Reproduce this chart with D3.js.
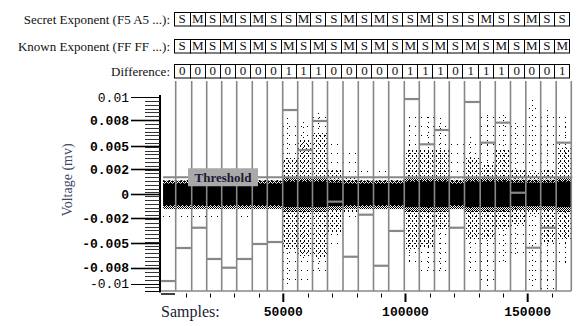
<!DOCTYPE html>
<html><head><meta charset="utf-8">
<script src="https://cdn.jsdelivr.net/npm/d3@7"></script>
<style>body{margin:0;background:#fff}svg{display:block}</style>
</head><body>
<svg id="c" width="587" height="326"></svg>
<script>
// ---------- data ----------
const secretOps = ["S","M","S","M","S","M","S","S","M","S","S","M","S","M","S","S","M","S","S","S","M","S","S","M","S","S"];
const knownOps  = ["S","M","S","M","S","M","S","M","S","M","S","M","S","M","S","M","S","M","S","M","S","M","S","M","S","M"];
const difference = [0,0,0,0,0,0,0,1,1,1,0,0,0,0,0,1,1,1,0,1,1,1,0,0,0,1];
// segment boundaries (samples): 27 segments
const segStarts = [0,5974,12521,18658,24796,30933,37316,43454,49755,55893,61949,68087,74429,80690,86909,93129,99512,105650,111869,117925,124144,130568,136747,142966,149227,155323,161666,167844];
// level (volts) drawn in each segment
const segLevels = [-0.00884,-0.00547,-0.0034,-0.00659,-0.00748,-0.00659,-0.00506,-0.00486,0.00861,0.00453,0.00749,-0.00074,-0.00636,-0.00207,-0.00728,-0.00373,0.00973,0.00511,0.00657,-0.0034,0.00943,0.00528,0.00732,0.00017,-0.00544,-0.0034,0.00528];
const thresholdValue = 0.00175;
// trace envelopes per segment (volts)
const coreHi  = [0.0011,0.0011,0.0011,0.0011,0.0011,0.0011,0.0011,0.0011,0.0013,0.0013,0.0013,0.0012,0.0011,0.0011,0.0011,0.0011,0.0013,0.0013,0.0013,0.0011,0.0013,0.0013,0.0013,0.0012,0.0012,0.0012,0.0013];
const coreLo  = [-0.0011,-0.0011,-0.0011,-0.0011,-0.0011,-0.0011,-0.0011,-0.0011,-0.0013,-0.0013,-0.0013,-0.0012,-0.0011,-0.0011,-0.0011,-0.0011,-0.0013,-0.0013,-0.0013,-0.0011,-0.0013,-0.0013,-0.0013,-0.0012,-0.0012,-0.0012,-0.0013];
const fuzzHi  = [0.0014,0.0014,0.0014,0.0014,0.0014,0.0014,0.0014,0.0014,0.0017,0.0017,0.0017,0.0015,0.0014,0.0014,0.0014,0.0014,0.0017,0.0017,0.0017,0.0014,0.0017,0.0017,0.0017,0.0015,0.0015,0.0015,0.0017];
const fuzzLo  = [-0.0015,-0.0015,-0.0015,-0.0015,-0.0015,-0.0015,-0.0015,-0.0015,-0.0018,-0.0018,-0.0018,-0.0016,-0.0015,-0.0015,-0.0015,-0.0015,-0.0018,-0.0018,-0.0018,-0.0015,-0.0018,-0.0018,-0.0018,-0.0016,-0.0016,-0.0016,-0.0018];
const denseHi = [0.0014,0.0014,0.0014,0.0014,0.0014,0.0014,0.0014,0.0014,0.00371,0.00555,0.00627,0.00249,0.0017,0.0014,0.0014,0.0014,0.00453,0.00453,0.00453,0.0016,0.00382,0.003,0.00453,0.00249,0.00229,0.00249,0.00484];
const denseLo = [-0.0015,-0.0015,-0.0015,-0.0015,-0.0015,-0.0015,-0.0015,-0.0015,-0.00567,-0.00629,-0.00649,-0.00394,-0.0019,-0.0015,-0.0015,-0.0015,-0.00567,-0.00537,-0.00363,-0.0015,-0.00465,-0.00465,-0.00363,-0.00312,-0.0021,-0.00496,-0.00465];
const sparseHi = [0.00188,0.00167,0.00188,0.00167,0.00167,0.00188,0.00167,0.00198,0.00759,0.00739,0.00831,0.00555,0.00453,0.003,0.00249,0.00198,0.00831,0.0079,0.0078,0.00524,0.00586,0.0081,0.0081,0.00729,0.00963,0.00861,0.0079];
const sparseLo = [-0.00241,-0.00261,-0.00282,-0.00241,-0.0022,-0.00241,-0.0022,-0.0022,-0.00945,-0.00945,-0.00802,-0.00567,-0.00261,-0.0018,-0.0021,-0.0021,-0.007,-0.00843,-0.00802,-0.0018,-0.00802,-0.00945,-0.007,-0.00639,-0.00945,-0.00976,-0.00741];
// visible vertical streaks of outliers: sample, top, bottom
const streakSamples = [51515,58060,64200,101436,109209,114119,126394,133350,139897,144807,151763,157900,165265];
const streakTop     = [0.0078,0.00739,0.00831,0.00708,0.0079,0.0078,0.00586,0.0081,0.0081,0.00729,0.00963,0.0086,0.0079];
const streakBottom  = [-0.00945,-0.00669,-0.00792,-0.007,-0.0077,-0.008,-0.0077,-0.00945,-0.007,-0.0064,-0.00945,-0.00976,-0.0074];
// axes
const yTickValues = [0.00991,0.00759,0.00491,0.00257,0,-0.00244,-0.00499,-0.00746,-0.00914];
const yTickLabels = ["0.01","0.008","0.005","0.002","0","-0.002","-0.005","-0.008","-0.01"];
const yTickBold   = [false,true,true,true,true,true,true,true,false];
const xTickValues = [50000,100000,150000];
const xTickLabels = ["50000","100000","150000"];
const xMinorTicks = [10000,20000,30000,40000,60000,70000,80000,90000,110000,120000,130000,140000,160000];

// ---------- layout ----------
const svg = d3.select("#c");
const plotTop = 81, plotBottom = 291;
const x = d3.scaleLinear().domain([0,168300]).range([161.1,572.4]);
const y = d3.scaleLinear().domain([-0.01,0.01]).range([292.4,96.4]);
const GRAY = "#878787";
const serif = "'Liberation Serif','Times New Roman',serif";
const mono = "'Liberation Mono','DejaVu Sans Mono',monospace";

const defs = svg.append("defs");
function pat(id,w,h,rects){
  const p = defs.append("pattern").attr("id",id).attr("width",w).attr("height",h).attr("patternUnits","userSpaceOnUse");
  rects.forEach(r=>p.append("rect").attr("x",r[0]).attr("y",r[1]).attr("width",r[2]).attr("height",r[3]).attr("fill","#000"));
}
pat("fuzz",2,2,[[0,0,1,1],[1,1,1,1]]);
pat("dense",4,5,[[0,0,1,2],[2,3,1,1]]);
pat("sparse",6,9,[[1,0,1,1]]);

const segs = d3.range(segLevels.length);
const trace = svg.append("g");
function band(hi,lo,fill){
  trace.selectAll(null).data(segs).join("rect")
    .attr("x",i=>x(segStarts[i])+ (i===0?2:0))
    .attr("width",i=>x(segStarts[i+1])-x(segStarts[i]) - (i===0?2:0))
    .attr("y",i=>y(hi[i])).attr("height",i=>y(lo[i])-y(hi[i]))
    .attr("fill",fill);
}
band(sparseHi,sparseLo,"url(#sparse)");
band(denseHi,denseLo,"url(#dense)");
band(fuzzHi,fuzzLo,"url(#fuzz)");
band(coreHi,coreLo,"#000");
trace.selectAll(null).data(streakSamples).join("line")
  .attr("x1",d=>Math.round(x(d))+0.5).attr("x2",d=>Math.round(x(d))+0.5)
  .attr("y1",(d,i)=>y(streakTop[i])).attr("y2",(d,i)=>y(streakBottom[i]))
  .attr("stroke","#000").attr("stroke-width",1).attr("stroke-dasharray","1,4");

// vertical segment lines
svg.append("g").selectAll("line").data(segStarts.slice(1)).join("line")
  .attr("x1",d=>x(d)).attr("x2",d=>x(d)).attr("y1",plotTop).attr("y2",plotBottom)
  .attr("stroke",GRAY).attr("stroke-width",1.6);
// bottom frame line
svg.append("line").attr("x1",x(0)).attr("x2",x(segStarts[segStarts.length-1])).attr("y1",plotBottom).attr("y2",plotBottom)
  .attr("stroke",GRAY).attr("stroke-width",1.6);
// level bars
svg.append("g").selectAll("line").data(segs).join("line")
  .attr("x1",i=>x(segStarts[i])).attr("x2",i=>x(segStarts[i+1]))
  .attr("y1",i=>y(segLevels[i])).attr("y2",i=>y(segLevels[i]))
  .attr("stroke",GRAY).attr("stroke-width",2.2);
// threshold
svg.append("line").attr("x1",x(0)+2).attr("x2",x(segStarts[segStarts.length-1])+1)
  .attr("y1",y(thresholdValue)).attr("y2",y(thresholdValue)).attr("stroke",GRAY).attr("stroke-width",2.2);
svg.append("rect").attr("x",188).attr("y",y(thresholdValue)-9).attr("width",70).attr("height",18).attr("fill","#a9a9a9");
svg.append("text").attr("x",223).attr("y",y(thresholdValue)+4.5).attr("text-anchor","middle")
  .attr("font-family",serif).attr("font-weight","bold").attr("font-size",13).attr("fill","#1a1a33").text("Threshold");

// y axis
const yAxisX = 160;
svg.append("line").attr("x1",yAxisX).attr("x2",yAxisX).attr("y1",95).attr("y2",292.5).attr("stroke","#000").attr("stroke-width",2);
const minorStep = 0.000388;
const yMinor = d3.range(yTickValues[0], -0.0099, -minorStep);
svg.append("g").selectAll("line").data(yMinor).join("line")
  .attr("x1",145).attr("x2",yAxisX).attr("y1",d=>Math.round(y(d))+0.5).attr("y2",d=>Math.round(y(d))+0.5)
  .attr("stroke","#333").attr("stroke-width",1);
svg.append("line").attr("x1",145).attr("x2",yAxisX).attr("y1",291.5).attr("y2",291.5).attr("stroke","#000");
const yt = svg.append("g");
yt.selectAll("line").data(yTickValues).join("line")
  .attr("x1",131).attr("x2",yAxisX).attr("y1",d=>Math.round(y(d))+0.5).attr("y2",d=>Math.round(y(d))+0.5)
  .attr("stroke","#000").attr("stroke-width",(d,i)=>yTickBold[i]?1.6:1);
yt.selectAll("text").data(yTickValues).join("text")
  .attr("x",129).attr("y",d=>y(d)+4.5).attr("text-anchor","end")
  .attr("font-family",mono).attr("font-size",13).attr("font-weight",(d,i)=>yTickBold[i]?"bold":"normal")
  .attr("fill","#000").text((d,i)=>yTickLabels[i]);
svg.append("text").attr("transform","translate(72,180) rotate(-90)").attr("text-anchor","middle")
  .attr("font-family",serif).attr("font-size",14).attr("fill","#3d4866").text("Voltage (mv)");

// x axis
svg.append("line").attr("x1",161).attr("x2",175).attr("y1",294).attr("y2",294).attr("stroke","#000").attr("stroke-width",1.5);
svg.append("g").selectAll("line").data(xMinorTicks).join("line")
  .attr("x1",d=>Math.round(x(d))+0.5).attr("x2",d=>Math.round(x(d))+0.5).attr("y1",293.5).attr("y2",297.5)
  .attr("stroke","#000").attr("stroke-width",1);
svg.append("g").selectAll("line").data(xTickValues).join("line")
  .attr("x1",d=>x(d)).attr("x2",d=>x(d)).attr("y1",293.5).attr("y2",302)
  .attr("stroke","#000").attr("stroke-width",2);
svg.append("g").selectAll("text").data(xTickValues).join("text")
  .attr("x",d=>x(d)).attr("y",315.5).attr("text-anchor","middle")
  .attr("font-family",mono).attr("font-size",13).attr("font-weight","bold").attr("fill","#000")
  .text((d,i)=>xTickLabels[i]);
svg.append("text").attr("x",161).attr("y",317).attr("font-family",serif).attr("font-size",16).attr("fill","#1a1a33").text("Samples:");

// header rows
const rows = [
  {label:"Secret Exponent (F5 A5 ...):", vals:secretOps, y:12.5},
  {label:"Known Exponent (FF FF ...):", vals:knownOps, y:39.5},
  {label:"Difference:", vals:difference, y:64.5}
];
const cellH = 13.5;
rows.forEach(r=>{
  svg.append("text").attr("x",170).attr("y",r.y+cellH/2+4.5).attr("text-anchor","end")
    .attr("font-family",serif).attr("font-size",13).attr("fill","#111").text(r.label);
  const g = svg.append("g");
  g.selectAll("rect").data(r.vals).join("rect")
    .attr("x",(d,i)=>Math.round(x(segStarts[i+1]))-1.5).attr("y",r.y)
    .attr("width",(d,i)=>Math.round(x(segStarts[i+2]))-Math.round(x(segStarts[i+1])))
    .attr("height",cellH).attr("fill","#fff").attr("stroke","#000").attr("stroke-width",1);
  g.selectAll("text").data(r.vals).join("text")
    .attr("x",(d,i)=>(x(segStarts[i+1])+x(segStarts[i+2]))/2-1.5).attr("y",r.y+cellH-3)
    .attr("text-anchor","middle").attr("font-family",serif).attr("font-size",13).attr("fill","#111")
    .text(d=>d);
});
</script>
</body></html>
